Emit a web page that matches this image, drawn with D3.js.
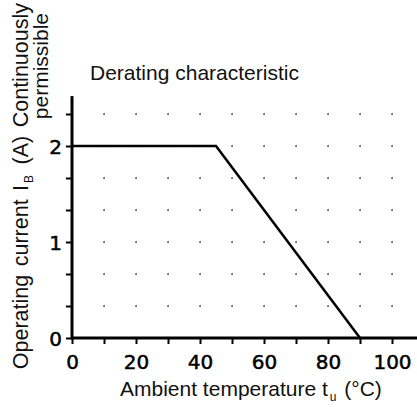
<!DOCTYPE html>
<html><head><meta charset="utf-8">
<script src="https://cdn.jsdelivr.net/npm/d3@7"></script>
<style>body{margin:0;background:#fff}svg{display:block}</style>
</head><body><svg id="c" width="417" height="407"></svg>
<script>
const temps = [0, 45, 90];
const current = [2, 2, 0];
const xTicks = [0,10,20,30,40,50,60,70,80,90,100];
const xLabels = [0,20,40,60,80,100];
const yTicks = [1/3,2/3,1,4/3,5/3,2,7/3];
const yLabels = [0,1,2];
const xMax = 108, yMax = 2.52;

const svg = d3.select('#c');
const x = d3.scaleLinear().domain([0,100]).range([72,392]);
const y = d3.scaleLinear().domain([0,2]).range([338,146]);

// dot grid
const dots = [];
xTicks.filter(v=>v>0).forEach(a=>yTicks.forEach(b=>dots.push([a,b])));
svg.append('g').selectAll('rect').data(dots).join('rect')
  .attr('x',d=>x(d[0])-0.6).attr('y',d=>y(d[1])-1).attr('width',1.3).attr('height',2.2)
  .attr('fill','#444');

// x axis
const xa = svg.append('g').attr('transform',`translate(0,${y(0)})`)
  .call(d3.axisBottom(x).tickValues(xTicks).tickSize(6).tickSizeOuter(0)
    .tickFormat(d=>xLabels.includes(d)?d:''));
xa.select('.domain').remove();
xa.selectAll('line').attr('stroke','#000').attr('stroke-width',2);
xa.selectAll('text').attr('font-family','DejaVu Sans').attr('font-size',20).attr('fill','#000')
  .attr('stroke','#000').attr('stroke-width',0.5).attr('dy',null).attr('y',31);

const ya = svg.append('g').attr('transform',`translate(${x(0)},0)`)
  .call(d3.axisLeft(y).tickValues([0,...yTicks]).tickSize(6).tickSizeOuter(0)
    .tickFormat(d=>yLabels.includes(d)?d:''));
ya.select('.domain').remove();
ya.selectAll('line').attr('stroke','#000').attr('stroke-width',2);
ya.selectAll('text').attr('font-family','DejaVu Sans').attr('font-size',20).attr('fill','#000')
  .attr('stroke','#000').attr('stroke-width',0.5).attr('x',-10).attr('dy','0.36em');

// axis lines
svg.append('line').attr('x1',x(0)).attr('x2',x(xMax)).attr('y1',y(0)).attr('y2',y(0)).attr('stroke','#000').attr('stroke-width',3);
svg.append('line').attr('x1',x(0)).attr('x2',x(0)).attr('y1',y(0)+1.5).attr('y2',y(yMax)).attr('stroke','#000').attr('stroke-width',3);

// curve
svg.append('path').datum(temps.map((t,i)=>[t,current[i]]))
  .attr('d',d3.line().x(d=>x(d[0])).y(d=>y(d[1])))
  .attr('fill','none').attr('stroke','#000').attr('stroke-width',2.5);

// title
svg.append('text').attr('x',90).attr('y',80).attr('font-family','Liberation Sans, Arial').attr('font-size',21)
  .attr('fill','#111').text('Derating characteristic');

// x label
const xl = svg.append('text').attr('x',120).attr('y',396).attr('font-family','Liberation Sans, Arial').attr('font-size',21).attr('fill','#111');
xl.append('tspan').text('Ambient temperature t');
xl.append('tspan').attr('font-size',12).attr('dy',5).attr('dx',2).text('u');
xl.append('tspan').attr('dy',-5).attr('dx',2).text(' (°C)');

// y label
const yl = svg.append('g').attr('transform','rotate(-90)');
const l1 = yl.append('text').attr('x',-3).attr('y',28).attr('text-anchor','end')
  .attr('font-family','Liberation Sans, Arial').attr('font-size',21.5).attr('fill','#111').attr('word-spacing',2.5);
l1.append('tspan').text('Operating current I');
l1.append('tspan').attr('font-size',12).attr('dy',5).attr('dx',2).text('B');
l1.append('tspan').attr('dy',-5).attr('dx',2).text(' (A) Continuously');
yl.append('text').attr('x',-13).attr('y',48).attr('text-anchor','end')
  .attr('font-family','Liberation Sans, Arial').attr('font-size',21).attr('fill','#111').text('permissible');
</script></body></html>
